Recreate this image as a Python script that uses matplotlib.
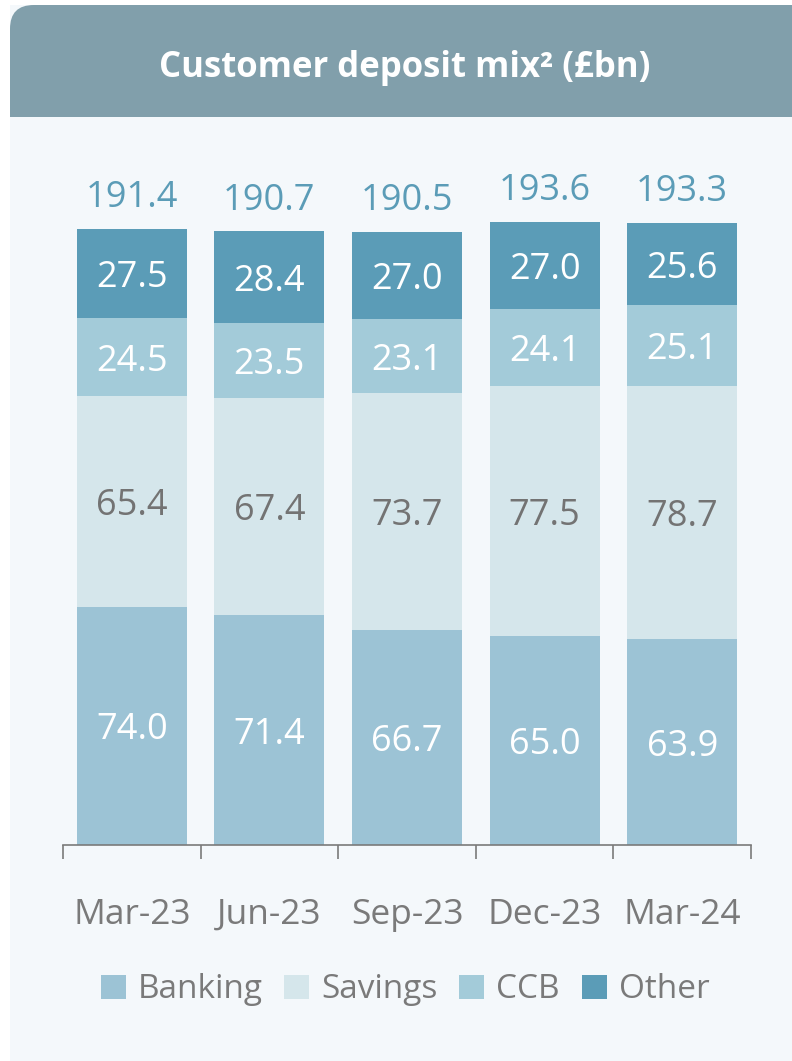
import matplotlib.pyplot as plt
from matplotlib.patches import FancyBboxPatch, Rectangle, Patch

# data
quarters = ["Mar-23", "Jun-23", "Sep-23", "Dec-23", "Mar-24"]
banking = [74.0, 71.4, 66.7, 65.0, 63.9]
savings = [65.4, 67.4, 73.7, 77.5, 78.7]
ccb = [24.5, 23.5, 23.1, 24.1, 25.1]
other = [27.5, 28.4, 27.0, 27.0, 25.6]
totals = [191.4, 190.7, 190.5, 193.6, 193.3]
series_names = ["Banking", "Savings", "CCB", "Other"]

colors = {"Banking": "#9cc3d5", "Savings": "#d5e6eb", "CCB": "#a3cbd9", "Other": "#5b9cb7"}
text_colors = {"Banking": "white", "Savings": "#737373", "CCB": "white", "Other": "white"}
grey = "#7a7a7a"
font = "Open Sans"

W, H = 792, 1061
fig = plt.figure(figsize=(W / 100, H / 100), dpi=100)
fig.patch.set_facecolor("white")

# card background and header (top-left corner rounded only)
fig.patches.append(Rectangle((10 / W, 0), 1, 1 - 5 / H, transform=fig.transFigure,
                             facecolor="#f4f8fb", edgecolor="none", zorder=-3))
fig.patches.append(FancyBboxPatch((10 / W, 1 - 117 / H), 1.05, 112 / H, transform=fig.transFigure,
                                  boxstyle="round,pad=0,rounding_size=0.03",
                                  facecolor="#819fab", edgecolor="none", zorder=-2,
                                  mutation_aspect=W / H))
fig.patches.append(Rectangle((10 / W, 1 - 117 / H), 1, 60 / H, transform=fig.transFigure,
                             facecolor="#819fab", edgecolor="none", zorder=-2))
fig.text(405 / W, 1 - 68 / H, "Customer deposit mix² (£bn)", ha="center", va="center",
         color="white", fontsize=25, fontweight="bold", family=font)

ax = fig.add_axes([63 / W, 1 - 845 / H, 688 / W, 695 / H])
ax.set_facecolor("none")
ax.set_xlim(-0.5, 4.5)
ax.set_ylim(0, 216)

x = range(len(quarters))
bottom = [0] * len(quarters)
for name, vals in zip(series_names, [banking, savings, ccb, other]):
    ax.bar(x, vals, 0.8, bottom=bottom, color=colors[name], label=name, zorder=2)
    for xi, b, v in zip(x, bottom, vals):
        ax.text(xi, b + v / 2, f"{v:.1f}", ha="center", va="center_baseline",
                color=text_colors[name], fontsize=26, family=font, zorder=3)
    bottom = [b + v for b, v in zip(bottom, vals)]

for xi, t, top in zip(x, totals, bottom):
    ax.text(xi, top + 11, f"{t:.1f}", ha="center", va="center_baseline",
            color="#5b9cb7", fontsize=26, family=font)

for s in ["top", "right", "left"]:
    ax.spines[s].set_visible(False)
ax.spines["bottom"].set_color(grey)
ax.spines["bottom"].set_linewidth(1.2)
ax.set_yticks([])
ax.set_xticks([i - 0.5 for i in range(6)], minor=True)
ax.tick_params(axis="x", which="minor", length=10, width=1.2, color=grey, direction="out")
ax.set_xticks(list(x))
ax.set_xticklabels(quarters, fontsize=25.5, color=grey, family=font)
ax.tick_params(axis="x", which="major", length=0, pad=38)

handles = [Patch(facecolor=colors[n], edgecolor="none") for n in series_names]
fig.legend(handles, series_names, loc="center", bbox_to_anchor=(405 / W, 1 - 990 / H),
           ncol=4, frameon=False, handlelength=0.75, handleheight=0.7,
           handletextpad=0.36, columnspacing=0.65,
           prop={"family": font, "size": 24}, labelcolor=grey)

fig.savefig("out.png", dpi=100, facecolor=fig.get_facecolor())
